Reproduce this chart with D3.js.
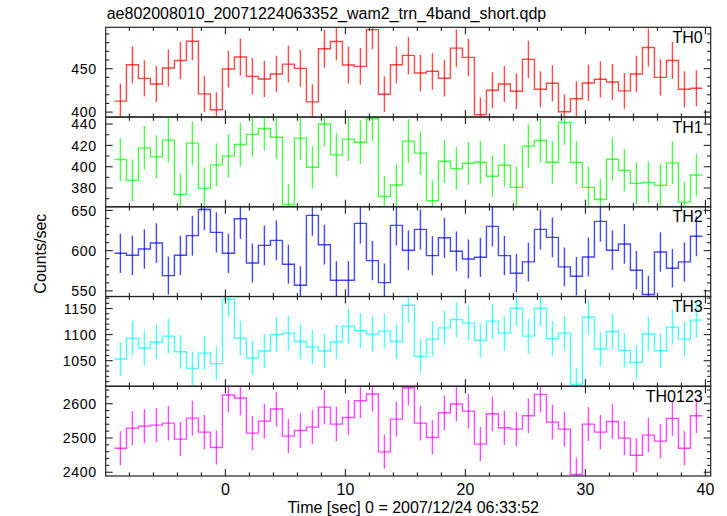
<!DOCTYPE html>
<html><head><meta charset="utf-8">
<script src="https://cdn.jsdelivr.net/npm/d3@7"></script>
<style>body{margin:0;background:#fff}svg{display:block}text{font-family:"Liberation Sans",Arial,Helvetica,sans-serif;fill:#000}</style>
</head><body><svg id="c" width="727" height="516"></svg>
<script>
// ---- data ----
const title = "ae802008010_20071224063352_wam2_trn_4band_short.qdp";
const xLabel = "Time [sec] 0 = 2007/12/24 06:33:52";
const yLabel = "Counts/sec";
const panelNames = ["TH0", "TH1", "TH2", "TH3", "TH0123"];
const panelColors = ["#ff0000", "#00ff00", "#0000ff", "#00ffff", "#ff00ff"];
const binWidth = 1;
const firstBinCenter = -8.75;
const xTickLabels = [0, 10, 20, 30, 40];

const th0 = [412.6,454.6,438.9,432.4,450.8,459.5,481.7,421,402.7,449.6,463.4,441.2,438.2,443.9,455.3,450.4,411.8,472.9,481.3,454.2,452.7,495,420.6,454.6,465.3,445,447,439,473.7,463,397,425.2,432.4,424,460.7,426.3,433.2,400.4,415.3,433.6,437.8,434.7,424.4,443.9,474.4,440,459.5,426.3,427.5];
const th1 = [406.7,387.2,417.7,409.2,424.9,374,422.1,379.7,401.7,410.2,420.8,430.3,435.9,427.7,364.6,426.8,399.5,440,411.1,425.9,423,445,372.1,382.8,424,412.7,368,405.1,398.2,403.2,404.2,391,401.4,380.6,419.3,424.6,404.2,441.6,403.9,380.6,369.3,407,396.6,384.4,385.3,382.5,403.6,366.8,392.2];
const th2 = [596.7,594.2,602.1,609.5,569,594.2,618.6,651.2,622.7,596.7,639.7,584.7,606.6,612.8,583.1,557,643.8,607.4,563.2,563.2,633.9,587.6,560.3,631.4,600.4,626.4,593.8,616.1,599.2,589.7,591.7,630.2,593.8,571.9,586,626.4,616.5,579.8,568.2,592.1,636.4,600.4,608.3,575.6,545.5,598.3,578.1,586,617.8];
const th3 = [1053.2,1093.3,1074.2,1085.7,1097.1,1067.2,1035.3,1064.6,1044.3,1167.8,1093.3,1055.1,1068.5,1100.3,1102.9,1086.9,1076.1,1068.5,1085.7,1116.2,1107.3,1101,1106.7,1086.9,1156.4,1058.3,1091.4,1113,1129,1122,1088.9,1125.8,1102.9,1150.6,1097.1,1150.6,1092,1102.9,1004.8,1133.4,1072.3,1106,1069.7,1046.8,1101.6,1069.1,1114.3,1091.4,1127.7];
const th0123 = [2470.2,2528.8,2534.6,2537.6,2543.4,2496.6,2558,2517.1,2472.2,2625.4,2616.6,2514.1,2549.3,2584.4,2505.4,2522,2531.7,2590.2,2540.5,2560,2608.8,2628.3,2459.5,2555.1,2646.8,2543.4,2501.5,2573.7,2599,2578.5,2482,2570.7,2529.8,2525.9,2564.9,2627.3,2546.3,2525.9,2393.2,2540.5,2517.1,2548.3,2499.5,2449.8,2508.3,2490.7,2557.1,2470.2,2564.9];
const series = [th0, th1, th2, th3, th0123];

const yDomains = [[394.3, 497.7], [362.4, 446.6], [543, 654.5], [1001, 1173], [2389, 2651]];
const yMajorTicks = [[400, 450], [380, 400, 420, 440], [550, 600, 650], [1050, 1100, 1150], [2400, 2500, 2600]];
const yMinorStep = [10, 10, 10, 10, 20];

// ---- layout ----
const L = 105.7, R = 710.7, T = 27.3, B = 476;
const ph = (B - T) / 5;
const svg = d3.select("#c");
const x = d3.scaleLinear().domain([-9.975, 40.44]).range([L, R]);
const axisCol = "#222";

svg.append("text").attr("x", L + 1).attr("y", 19).attr("font-size", 16).text(title);

const xMinor = d3.range(-8, 41, 2);

series.forEach((vals, p) => {
  const top = T + p * ph, bot = top + ph;
  const y = d3.scaleLinear().domain(yDomains[p]).range([bot, top]);
  const g = svg.append("g");
  const cid = "clip" + p;
  svg.append("clipPath").attr("id", cid).append("rect").attr("x", L).attr("y", top).attr("width", R - L).attr("height", ph);

  const data = vals.map((v, i) => ({ t: firstBinCenter + i * binWidth, v: v, e: Math.sqrt(v / binWidth) }));
  const pts = [];
  data.forEach(d => { pts.push([d.t - binWidth / 2, d.v]); pts.push([d.t + binWidth / 2, d.v]); });
  const line = d3.line().x(d => x(d[0])).y(d => y(d[1]));
  const dg = g.append("g").attr("clip-path", `url(#${cid})`)
    .attr("stroke", panelColors[p]).attr("stroke-opacity", 0.72).attr("stroke-width", 1.4).attr("fill", "none");
  dg.append("path").attr("d", line(pts));
  dg.selectAll("line").data(data).join("line")
    .attr("x1", d => x(d.t)).attr("x2", d => x(d.t))
    .attr("y1", d => y(d.v - d.e)).attr("y2", d => y(d.v + d.e));

  // frame
  g.append("rect").attr("x", L).attr("y", top).attr("width", R - L).attr("height", ph)
    .attr("fill", "none").attr("stroke", axisCol).attr("stroke-width", 1.2);

  // x ticks (top & bottom, inward)
  const tg = g.append("g").attr("stroke", axisCol).attr("stroke-width", 1.1);
  xMinor.forEach(t => {
    const len = (t % 10 === 0) ? 7 : 3.6;
    tg.append("line").attr("x1", x(t)).attr("x2", x(t)).attr("y1", bot).attr("y2", bot - len);
    tg.append("line").attr("x1", x(t)).attr("x2", x(t)).attr("y1", top).attr("y2", top + len);
  });
  // y ticks (left & right, inward)
  const [d0, d1] = yDomains[p];
  const minor = d3.range(Math.ceil(d0 / yMinorStep[p]) * yMinorStep[p], d1, yMinorStep[p]);
  minor.forEach(v => {
    const len = yMajorTicks[p].includes(v) ? 7 : 3.6;
    tg.append("line").attr("x1", L).attr("x2", L + len).attr("y1", y(v)).attr("y2", y(v));
    tg.append("line").attr("x1", R).attr("x2", R - len).attr("y1", y(v)).attr("y2", y(v));
  });
  yMajorTicks[p].forEach(v => {
    g.append("text").attr("x", L - 9).attr("y", y(v)).attr("dy", "0.36em")
      .attr("text-anchor", "end").attr("font-size", 14.2).attr("letter-spacing", "0.6px").text(v);
  });
  g.append("text").attr("x", R - 8).attr("y", top + 15.5).attr("text-anchor", "end")
    .attr("font-size", 16).text(panelNames[p]);
});

xTickLabels.forEach(t => {
  svg.append("text").attr("x", x(t)).attr("y", 495).attr("text-anchor", "middle").attr("font-size", 16).text(t);
});
svg.append("text").attr("x", (L + R) / 2 + 5).attr("y", 513).attr("text-anchor", "middle").attr("font-size", 16).text(xLabel);
svg.append("text").attr("transform", `translate(46,${(T + B) / 2 + 2}) rotate(-90)`).attr("text-anchor", "middle").attr("font-size", 16).text(yLabel);
</script></body></html>
